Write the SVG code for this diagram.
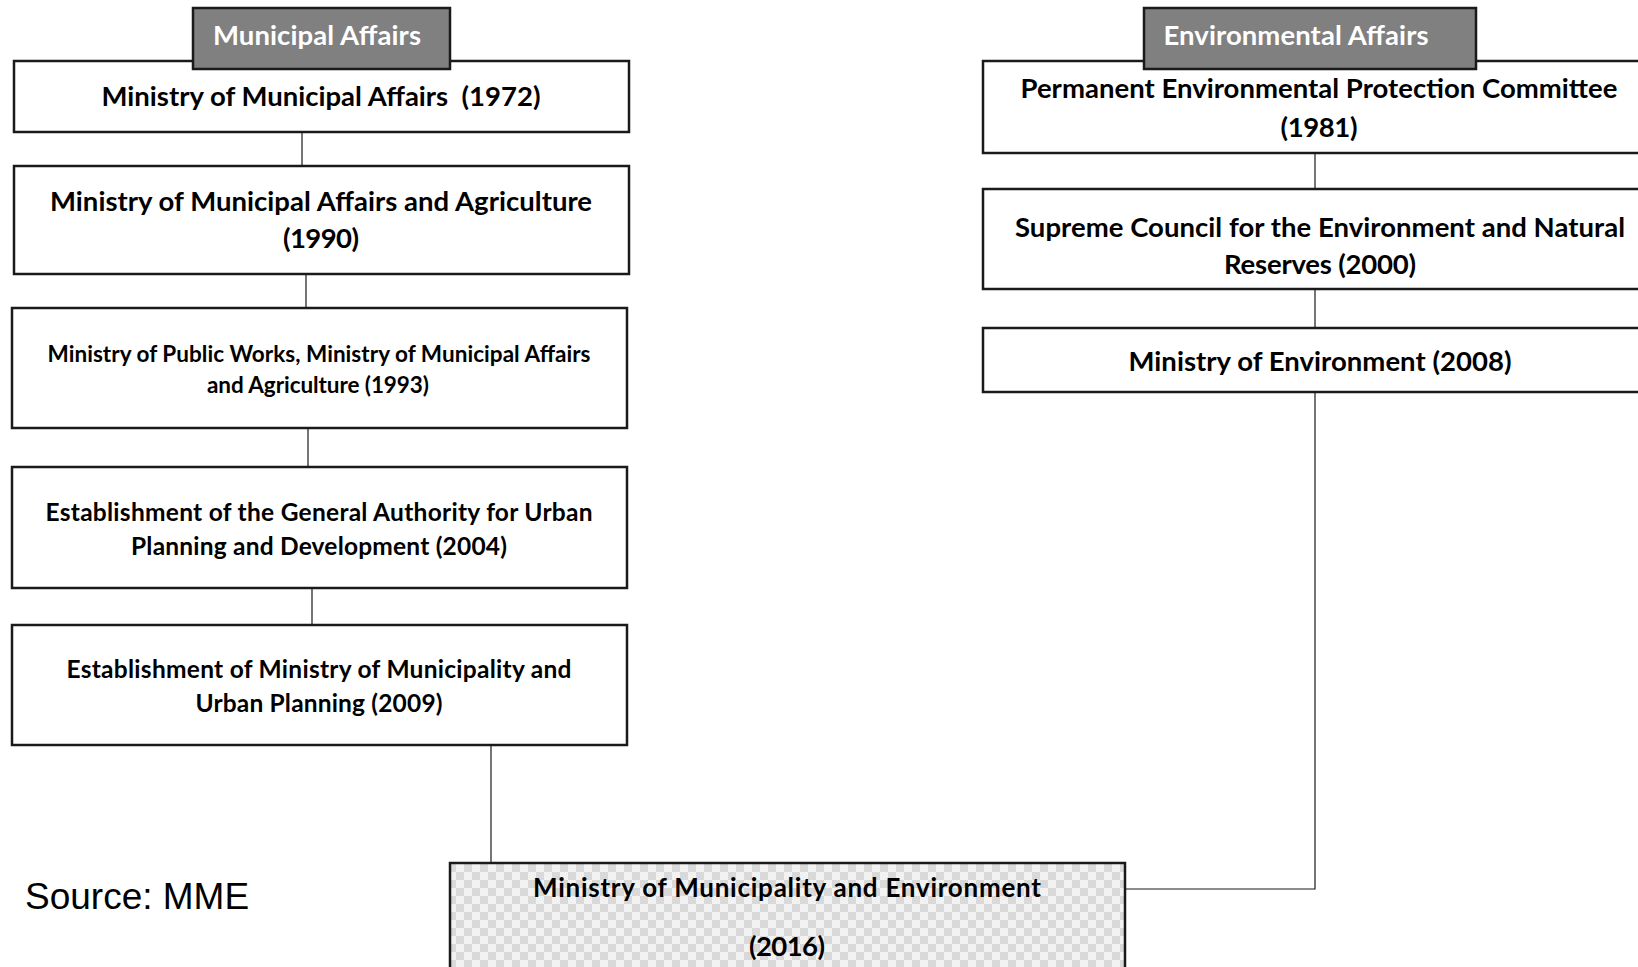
<svg xmlns="http://www.w3.org/2000/svg" width="1638" height="967" viewBox="0 0 1638 967">
<style>
.box{fill:#fff;stroke:#1a1a1a;stroke-width:2.5}
.hdr{fill:#808080;stroke:#1a1a1a;stroke-width:2.5}
.t{font-family:Lato,"Open Sans",sans-serif;font-weight:bold;font-size:27.5px;fill:#000;text-anchor:middle}
.tm{font-size:26px}
.tn{font-size:24.5px}
.ts{font-size:22.5px}
.th{fill:#fff}
.conn{stroke:#1a1a1a;stroke-width:1.2;fill:none}
.src{font-family:"Liberation Sans",Arial,sans-serif;font-size:37px;fill:#000}
</style>
<defs>
<pattern id="chk" width="16" height="16" patternUnits="userSpaceOnUse">
<rect width="16" height="16" fill="#f2f2f2"/>
<rect width="8" height="8" fill="#d9d9d9"/>
<rect x="8" y="8" width="8" height="8" fill="#d9d9d9"/>
</pattern>
</defs>
<rect width="1638" height="967" fill="#fff"/>
<g id="connectors">
<line class="conn" x1="302" y1="132" x2="302" y2="166"/>
<line class="conn" x1="306" y1="274" x2="306" y2="308"/>
<line class="conn" x1="308" y1="428" x2="308" y2="467"/>
<line class="conn" x1="312" y1="588" x2="312" y2="625"/>
<line class="conn" x1="491" y1="745" x2="491" y2="863"/>
<line class="conn" x1="1315" y1="152" x2="1315" y2="189"/>
<line class="conn" x1="1315" y1="289" x2="1315" y2="328"/>
<polyline class="conn" points="1315,392 1315,889 1125,889"/>
</g>
<g id="box1972">
<rect class="box" x="14" y="61" width="615" height="71"/>
<text class="t" x="321" y="106" textLength="439" lengthAdjust="spacing">Ministry of Municipal Affairs&#160; (1972)</text>
</g>
<g id="header-municipal">
<rect class="hdr" x="193" y="8" width="257" height="61"/>
<text class="t th" x="317" y="45" textLength="208" lengthAdjust="spacing">Municipal Affairs</text>
</g>
<g id="box1990">
<rect class="box" x="14" y="166" width="615" height="108"/>
<text class="t" x="321" y="211" textLength="542" lengthAdjust="spacing">Ministry of Municipal Affairs and Agriculture</text>
<text class="t" x="321" y="248" textLength="76" lengthAdjust="spacing">(1990)</text>
</g>
<g id="box1993">
<rect class="box" x="12" y="308" width="615" height="120"/>
<text class="t ts" x="319" y="362" textLength="543" lengthAdjust="spacing">Ministry of Public Works, Ministry of Municipal Affairs</text>
<text class="t ts" x="318" y="393" textLength="222" lengthAdjust="spacing">and Agriculture (1993)</text>
</g>
<g id="box2004">
<rect class="box" x="12" y="467" width="615" height="121"/>
<text class="t tn" x="319" y="521" textLength="547" lengthAdjust="spacing">Establishment of the General Authority for Urban</text>
<text class="t tn" x="319" y="555" textLength="376" lengthAdjust="spacing">Planning and Development (2004)</text>
</g>
<g id="box2009">
<rect class="box" x="12" y="625" width="615" height="120"/>
<text class="t tn" x="319" y="678" textLength="505" lengthAdjust="spacing">Establishment of Ministry of Municipality and</text>
<text class="t tn" x="319" y="712" textLength="247" lengthAdjust="spacing">Urban Planning (2009)</text>
</g>
<g id="box1981">
<rect class="box" x="983" y="61" width="680" height="92"/>
<text class="t" x="1319" y="98" textLength="597" lengthAdjust="spacing">Permanent Environmental Protection Committee</text>
<text class="t" x="1319" y="137" textLength="77" lengthAdjust="spacing">(1981)</text>
</g>
<g id="header-environmental">
<rect class="hdr" x="1144" y="8" width="332" height="61"/>
<text class="t th" x="1296" y="45" textLength="265" lengthAdjust="spacing">Environmental Affairs</text>
</g>
<g id="box2000">
<rect class="box" x="983" y="189" width="680" height="100"/>
<text class="t" x="1320" y="237" textLength="610" lengthAdjust="spacing">Supreme Council for the Environment and Natural</text>
<text class="t" x="1320" y="274" textLength="192" lengthAdjust="spacing">Reserves (2000)</text>
</g>
<g id="box2008">
<rect class="box" x="983" y="328" width="680" height="64"/>
<text class="t" x="1320" y="371" textLength="383" lengthAdjust="spacing">Ministry of Environment (2008)</text>
</g>
<g id="box2016">
<rect x="450" y="863" width="675" height="140" fill="url(#chk)" stroke="#1a1a1a" stroke-width="2.5"/>
<text class="t tm" x="787" y="897" textLength="508" lengthAdjust="spacing">Ministry of Municipality and Environment</text>
<text class="t" x="787" y="956" textLength="76" lengthAdjust="spacing">(2016)</text>
</g>
<text class="src" x="25" y="909">Source: MME</text>
</svg>
